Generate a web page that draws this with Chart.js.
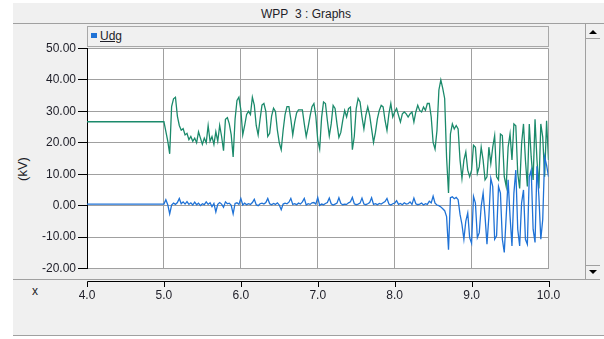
<!DOCTYPE html>
<html>
<head>
<meta charset="utf-8">
<script src="https://cdn.jsdelivr.net/npm/chart.js@4.4.1/dist/chart.umd.min.js"></script>
<style>
html,body{margin:0;padding:0;background:#fff;width:604px;height:339px;overflow:hidden;font-family:"Liberation Sans",Arial,sans-serif;color:#1e1e28;}
.abs{position:absolute;}
#win{left:13px;top:3px;width:591px;height:333px;background:#f0f0f0;}
.hl{height:1px;background:#a0a0a0;}
.vl{width:1px;background:#a0a0a0;}
#title{left:206px;top:6px;width:200px;text-align:center;font-size:12px;line-height:16px;}
#legend{left:87px;top:26px;width:460px;height:19px;border:1px solid #a8a8a8;background:#f0f0f0;}
#legsq{left:91px;top:33px;width:6px;height:5px;background:#1f72d6;}
#legtxt{left:100px;top:29px;font-size:12px;line-height:14px;text-decoration:underline;}
#kv{left:23px;top:169px;font-size:13px;line-height:14px;transform:translate(-50%,-50%) rotate(-90deg);white-space:nowrap;}
#xl{left:32px;top:284px;font-size:12px;line-height:14px;}
.tri-up{width:0;height:0;border-left:4px solid transparent;border-right:4px solid transparent;border-bottom:4px solid #000;}
.tri-dn{width:0;height:0;border-left:4px solid transparent;border-right:4px solid transparent;border-top:4px solid #000;}
#cv{position:absolute;left:0;top:0;width:604px;height:339px;}
</style>
</head>
<body>
<div id="win" class="abs"></div>
<div id="title" class="abs">WPP&nbsp;&nbsp;3 : Graphs</div>
<div class="abs hl" style="left:13px;top:23px;width:591px;"></div>
<div id="legend" class="abs"></div>
<div id="legsq" class="abs"></div>
<div id="legtxt" class="abs">Udg</div>
<div class="abs vl" style="left:585px;top:24px;height:255px;"></div>
<div class="abs tri-up" style="left:589px;top:30px;"></div>
<div class="abs hl" style="left:586px;top:38px;width:14px;"></div>
<div class="abs hl" style="left:586px;top:265px;width:14px;"></div>
<div class="abs tri-dn" style="left:589px;top:270px;"></div>
<div class="abs hl" style="left:13px;top:279px;width:587px;"></div>
<div class="abs hl" style="left:13px;top:335px;width:591px;"></div>
<div id="kv" class="abs">(kV)</div>
<div id="xl" class="abs">x</div>
<div id="cv"><canvas id="c"></canvas></div>
<script>
// pre-fault steady state (t = 4.0 s)
const preTimes = [4.0];
const preUdg = [0.5];
const preTrace2 = [26.7];

// sampled part: t = 5.0 s ... 10.0 s, every 0.025 s
const startTime = 5.0;
const step = 0.025;

// green trace (kV)
const trace2Values = [
 26.7,23.6,20.5,16.5,31.5,34.0,34.5,28.5,25.5,24.0,24.5,22.5,23.0,21.0,22.0,20.5,21.5,20.0,23.5,21.5,
 19.5,21.5,20.0,25.5,20.5,22.0,19.5,23.5,20.5,25.5,22.0,17.5,27.5,28.0,26.0,22.5,15.5,27.5,33.5,34.5,
 30.5,22.5,25.5,29.0,30.0,29.0,34.5,32.0,25.5,22.5,27.5,32.0,32.5,30.0,22.0,23.0,28.5,31.0,30.0,24.0,
 20.0,17.8,24.0,29.0,31.5,31.5,27.5,22.5,26.5,29.5,30.5,30.5,30.5,26.0,22.0,25.0,28.5,31.5,32.5,28.5,
 20.8,18.0,28.0,33.0,32.5,27.1,22.2,26.0,31.9,30.9,26.0,21.7,23.3,27.1,30.3,28.2,30.9,31.4,17.8,22.0,
 30.9,34.1,33.0,28.2,24.4,28.7,31.4,28.7,24.4,20.1,23.3,27.6,30.3,31.9,31.4,27.1,23.9,29.2,32.5,28.2,
 29.8,30.9,28.7,26.6,29.2,29.8,29.2,28.2,29.2,29.8,26.6,29.8,31.9,30.3,29.8,31.4,30.3,32.5,32.5,28.2,
 20.1,18.0,23.9,36.8,40.0,37.3,34.1,15.3,4.0,22.8,26.0,24.4,25.5,24.4,14.5,8.7,14.5,17.1,11.3,9.2,
 11.3,19.2,18.6,10.3,12.4,18.6,14.5,8.2,9.2,18.6,13.4,18.6,22.3,9.2,8.2,22.8,22.3,9.2,6.1,18.6,
 22.8,14.5,26.0,25.4,10.3,5.5,19.7,26.0,14.5,6.1,26.0,15.5,8.2,27.5,14.5,5.5,26.0,21.8,9.2,27.0,14.5
];

// Udg (kV)
const udgValues = [
 0.5,1.9,0.3,-2.6,0.2,0.8,0.4,1.0,2.3,0.6,1.2,0.5,1.3,0.4,0.9,0.2,1.1,0.3,0.8,0.0,
 0.6,0.3,1.2,0.4,0.9,-0.3,0.7,-2.0,0.4,1.0,0.5,-0.5,1.2,0.6,0.8,0.1,-2.6,0.7,0.9,0.4,
 2.3,0.2,0.8,0.3,0.6,0.4,1.0,2.0,0.3,0.0,0.6,0.8,0.5,1.0,2.3,0.6,0.3,0.7,0.4,0.9,
 0.2,-1.3,0.5,0.8,0.6,1.1,2.3,0.4,0.6,0.3,0.8,0.5,1.2,2.3,0.2,0.6,0.4,0.9,1.0,0.5,
 2.6,0.1,0.5,0.3,0.7,1.0,2.4,0.6,0.2,0.5,0.8,2.5,0.7,0.3,0.5,0.4,0.9,1.2,2.6,0.6,
 0.3,0.5,0.8,2.4,0.5,0.3,0.6,1.0,2.5,0.4,0.6,0.3,0.7,0.5,0.9,1.3,2.3,0.5,0.2,0.6,
 0.8,1.6,0.4,0.7,0.3,0.9,0.5,0.6,1.2,0.4,2.4,0.6,0.3,0.5,0.8,0.2,0.6,0.4,1.4,0.9,
 3.0,0.8,0.2,0.0,-0.4,-1.0,-1.6,-3.5,-14.0,2.5,2.8,2.2,2.6,1.9,-2.8,-6.0,-10.7,-4.9,-2.3,-10.2,
 -12.0,2.9,0.8,-10.2,-8.6,-0.2,4.0,-3.4,-12.3,-3.4,8.7,6.1,-10.7,-9.6,6.1,4.0,-10.7,-14.9,-3.4,8.2,
 -3.4,-12.8,4.0,11.3,-7.5,-12.8,0.8,5.0,-10.7,-12.3,9.2,11.3,-7.5,-11.7,12.5,2.9,-10.7,-4.4,15.5,12.9,9.2
];

// axis ticks
const yTicks = [50, 40, 30, 20, 10, 0, -10, -20];
const xTicks = [4, 5, 6, 7, 8, 9, 10];

const sampleTimes = udgValues.map((_, i) => +(startTime + i * step).toFixed(3));
const toPoints = (pt, pv, vals) =>
  pt.map((t, i) => ({x: t, y: pv[i]})).concat(vals.map((v, i) => ({x: sampleTimes[i], y: v})));

const whiteArea = {
  id: 'whiteArea',
  beforeDraw(c) {
    const {ctx, chartArea: a} = c;
    ctx.save();
    ctx.fillStyle = '#ffffff';
    ctx.fillRect(a.left, a.top, a.right - a.left, a.bottom - a.top);
    ctx.restore();
  }
};
const detachedXAxis = {
  id: 'detachedXAxis',
  afterDraw(c) {
    const s = c.scales.x, ctx = c.ctx;
    const y = 281.5;
    ctx.save();
    ctx.strokeStyle = '#000';
    ctx.lineWidth = 1;
    ctx.beginPath();
    const l = Math.round(s.getPixelForValue(xTicks[0])) + 0.5;
    const r = Math.round(s.getPixelForValue(xTicks[xTicks.length - 1])) + 0.5;
    ctx.moveTo(l, y); ctx.lineTo(r + 0.5, y);
    xTicks.forEach(v => {
      const px = Math.round(s.getPixelForValue(v)) + 0.5;
      ctx.moveTo(px, y); ctx.lineTo(px, y + 5.5);
    });
    ctx.stroke();
    ctx.restore();
  }
};

new Chart(document.getElementById('c'), {
  type: 'line',
  data: {
    datasets: [
      {label: 'Udg', data: toPoints(preTimes, preUdg, udgValues), borderColor: '#1f72d6', borderWidth: 1.3, pointRadius: 0, tension: 0},
      {label: 'trace2', data: toPoints(preTimes, preTrace2, trace2Values), borderColor: '#1b8a6b', borderWidth: 1.3, pointRadius: 0, tension: 0}
    ]
  },
  options: {
    responsive: true,
    maintainAspectRatio: false,
    animation: false,
    events: [],
    layout: {padding: {left: 0, top: 48.5, right: 55.5, bottom: 0}},
    plugins: {legend: {display: false}, tooltip: {enabled: false}},
    scales: {
      x: {
        type: 'linear', min: 4, max: 10,
        afterBuildTicks: s => { s.ticks = xTicks.map(v => ({value: v})); },
        afterFit: s => { s.height = 70.5; },
        grid: {color: '#a0a0a0', lineWidth: 1, drawTicks: false},
        border: {display: false},
        ticks: {padding: 20, color: '#1e1e28', font: {family: 'Liberation Sans', size: 12}, callback: v => Number(v).toFixed(1), maxRotation: 0, autoSkip: false}
      },
      y: {
        type: 'linear', min: -20, max: 50,
        afterBuildTicks: s => { s.ticks = yTicks.map(v => ({value: v})); },
        afterFit: s => { s.width = 87; },
        grid: {color: '#a0a0a0', lineWidth: 1, tickLength: 9, tickColor: '#000'},
        border: {display: true, color: '#000', width: 1},
        ticks: {padding: 2, color: '#1e1e28', font: {family: 'Liberation Sans', size: 12}, callback: v => Number(v).toFixed(2), autoSkip: false}
      }
    }
  },
  plugins: [whiteArea, detachedXAxis]
});
</script>
</body>
</html>
